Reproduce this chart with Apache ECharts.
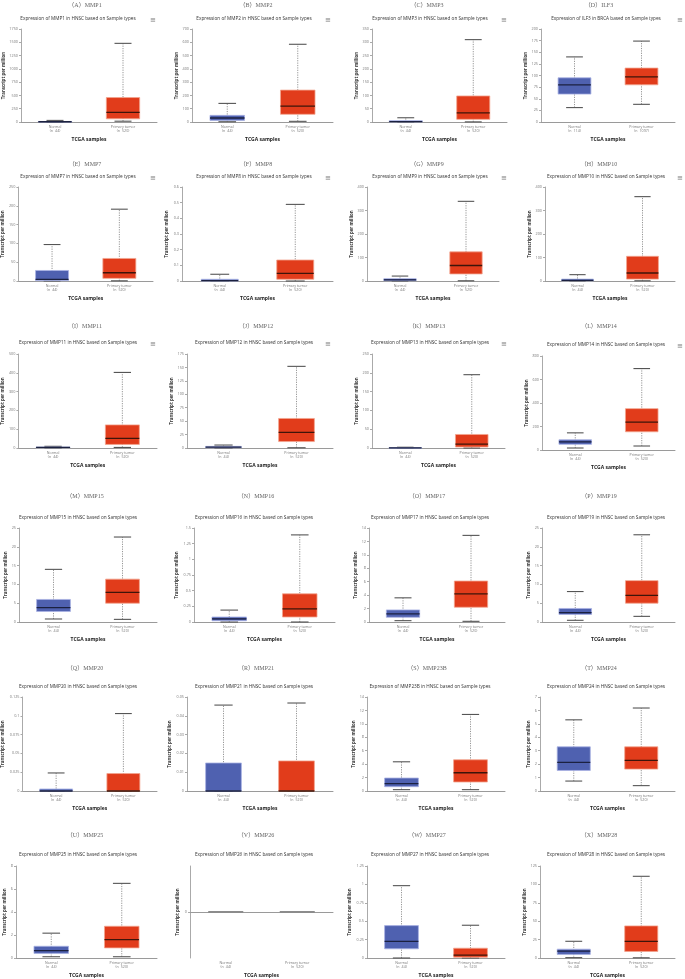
<!DOCTYPE html>
<html><head><meta charset="utf-8">
<script src="https://cdn.jsdelivr.net/npm/echarts@6/dist/echarts.min.js"></script>
<style>html,body{margin:0;padding:0;background:#fff}#c{width:685px;height:979px}</style>
</head><body><div id="c"></div>
<script>
// ---------------- data ----------------
const panelLetters = ['A','B','C','D','E','F','G','H','I','J','K','L','M','N','O','P','Q','R','S','T','U','V','W','X'];
const genes = ['MMP1','MMP2','MMP3','ILF3','MMP7','MMP8','MMP9','MMP10','MMP11','MMP12','MMP13','MMP14','MMP15','MMP16','MMP17','MMP19','MMP20','MMP21','MMP23B','MMP24','MMP25','MMP26','MMP27','MMP28'];
const cancers = ['HNSC','HNSC','HNSC','BRCA','HNSC','HNSC','HNSC','HNSC','HNSC','HNSC','HNSC','HNSC','HNSC','HNSC','HNSC','HNSC','HNSC','HNSC','HNSC','HNSC','HNSC','HNSC','HNSC','HNSC'];
const normalN = ['44','44','44','114','44','44','44','44','44','44','44','44','44','44','44','44','44','44','44','44','44','44','44','44'];
const tumorN  = ['520','520','520','1097','520','520','520','520','520','520','520','520','520','520','520','520','520','520','520','520','520','520','520','520'];
const yMax      = [1750,700,350,200,250,0.6,400,400,500,175,250,800,25,1.5,14,25,0.125,0.05,14,7,8,1,1.25,125];
const yMin      = [0,0,0,0,0,0,0,0,0,0,0,0,0,0,0,0,0,0,0,0,0,-1,0,0];
const yInterval = [250,100,50,25,50,0.1,100,100,100,25,50,200,5,0.25,2,5,0.025,0.01,2,1,2,1,0.25,25];
// [min, Q1, median, Q3, max]
const normalStats = [
 [0, 2, 5, 10, 30],
 [2, 12, 30, 50, 140],
 [0, 0.5, 1.5, 5, 16],
 [31, 60, 80, 95, 140],
 [0, 1, 4.5, 28, 97],
 [0, 0, 0.003, 0.011, 0.043],
 [0, 1.5, 4.5, 10, 21],
 [0, 1, 3, 8, 27],
 [0.5, 1.5, 3, 5, 9],
 [0, 0.5, 1.5, 3, 5.5],
 [0, 0.1, 0.3, 1, 2],
 [17, 48, 70, 87, 146],
 [0.8, 2.8, 3.8, 6.0, 14],
 [0, 0.02, 0.05, 0.08, 0.19],
 [0.2, 0.7, 1.2, 1.8, 3.6],
 [0.45, 2.0, 2.5, 3.6, 8.1],
 [0, 0, 0, 0.0027, 0.024],
 [0, 0, 0, 0.0149, 0.0457],
 [0.2, 0.64, 1.09, 1.93, 4.35],
 [0.74, 1.53, 2.13, 3.29, 5.3],
 [0.11, 0.4, 0.65, 1.02, 2.16],
 [0, 0, 0, 0, 0],
 [0, 0.125, 0.227, 0.44, 0.983],
 [0.5, 4.9, 9.3, 12, 22.7]
];
const tumorStats = [
 [15, 60, 180, 460, 1480],
 [5, 58, 120, 240, 585],
 [0.5, 10, 34, 98, 310],
 [38, 80, 97, 116, 174],
 [0.5, 7, 22, 60, 191],
 [0, 0.011, 0.049, 0.134, 0.489],
 [1, 30, 66, 124, 339],
 [1, 8, 34, 105, 359],
 [3, 19, 51, 123, 402],
 [0.5, 12, 29, 55, 152],
 [0, 2.6, 10.5, 36, 195],
 [34, 155, 237, 352, 693],
 [0.7, 5.0, 7.9, 11.4, 22.6],
 [0, 0.08, 0.21, 0.45, 1.39],
 [0.1, 2.2, 4.2, 6.1, 12.9],
 [1.5, 5.0, 7.1, 11.0, 23.2],
 [0, 0, 0, 0.0232, 0.103],
 [0, 0, 0, 0.016, 0.0468],
 [0.2, 1.34, 2.72, 4.65, 11.4],
 [0.4, 1.63, 2.28, 3.29, 6.18],
 [0.11, 0.88, 1.59, 2.76, 6.49],
 [0, 0, 0, 0, 0],
 [0, 0.01, 0.04, 0.133, 0.445],
 [0.3, 8.9, 22.7, 43.6, 111]
];

// ---------------- layout ----------------
const rowLabelY = [5, 164, 326, 496, 668, 835];
const rowTitleY = [19, 177, 343, 518, 687, 855];
const rowTop    = [29, 187, 354, 528, 697, 866];
const rowZero   = [122, 281, 448, 622, 791, 959];
const colTitleX = [78, 254, 430, 606];
const colLabelX = [85, 256, 427, 599];
const colIconX  = [153, 328, 504, 680];
const axisLeft = [21,192,372,541, 17,182,367,545, 18,187,372,542, 19,194,369,542, 20,187,367,540, 16,190,367,540];
const axisEnd  = [157,333,507,675, 153,333,499,675, 157,333,505,675, 157,335,505,675, 157,333,505,675, 157,333,505,675];

const FONT = '"Open Sans", "Noto Sans", sans-serif';
const fmt = v => String(+(+v).toFixed(6));

const grids = [], xAxes = [], yAxes = [], series = [], graphics = [];

for (let i = 0; i < 24; i++) {
  const r = Math.floor(i / 4), c = i % 4;
  const top = rowTop[r] + (i === 11 ? 2 : 0);
  const zero = rowZero[r] + (i === 11 ? 2 : 0);
  grids.push({left: axisLeft[i], width: axisEnd[i] - axisLeft[i], top: top, height: zero - top, containLabel: false});
  xAxes.push({
    type: 'category', gridIndex: i,
    data: ['Normal\n(n=' + normalN[i] + ')', 'Primary tumor\n(n=' + tumorN[i] + ')'],
    axisLine: {lineStyle: {color: '#9a9a9a', width: 1}},
    axisTick: {alignWithLabel: true, length: 2, lineStyle: {color: '#9a9a9a'}},
    axisLabel: {fontSize: 3.6, color: '#777', lineHeight: 4.2, margin: 3, fontFamily: FONT},
    name: 'TCGA samples', nameLocation: 'middle', nameGap: 15,
    nameTextStyle: {fontSize: 5, fontWeight: 'bold', color: '#222', fontFamily: FONT}
  });
  const maxChars = Math.max(fmt(yMax[i]).length, fmt(yInterval[i] * (Math.round(yMax[i] / yInterval[i]) - 1)).length);
  const yAxis = {
    type: 'value', gridIndex: i, min: yMin[i], max: yMax[i], interval: yInterval[i],
    splitLine: {show: false},
    axisLine: {show: true, lineStyle: {color: '#aaa', width: 1}},
    axisTick: {show: true, length: 2, lineStyle: {color: '#aaa'}},
    axisLabel: {fontSize: 3.8, color: '#777', margin: 3, formatter: fmt, fontFamily: FONT},
    name: 'Transcript per million', nameLocation: 'middle', nameRotate: 90,
    nameGap: 6 + maxChars * 2.3,
    nameTextStyle: {fontSize: 4.4, fontWeight: 'bold', color: '#333', fontFamily: FONT}
  };
  if (yMin[i] < 0) {
    yAxis.axisLabel.customValues = [0];
    yAxis.axisTick.customValues = [0];
    yAxis.nameGap = 10;
  }
  yAxes.push(yAxis);
  series.push({
    type: 'custom', xAxisIndex: i, yAxisIndex: i,
    data: [[0].concat(normalStats[i]), [1].concat(tumorStats[i])],
    renderItem: function (params, api) {
      const cat = api.value(0);
      const v = [1, 2, 3, 4, 5].map(k => api.value(k));
      const x = api.coord([cat, 0])[0];
      const band = api.size([1, 0])[0];
      const bw = band * 0.49, cw = band * 0.25;
      const y = v.map(val => api.coord([cat, val])[1]);
      if (v[0] === v[4]) {
        return {type: 'line', shape: {x1: x - bw / 2, y1: y[2], x2: x + bw / 2, y2: y[2]},
                style: {stroke: '#8c8c8c', lineWidth: 1.8}};
      }
      const blue = cat === 0;
      const fill = blue ? '#4f61b0' : '#e13c1b';
      const edge = blue ? '#aab3e3' : '#f3a58f';
      const med = blue ? '#1b2140' : '#3d140a';
      return {type: 'group', children: [
        {type: 'line', shape: {x1: x, y1: y[0], x2: x, y2: y[4]},
         style: {stroke: '#8a8a8a', lineWidth: 0.9, lineDash: [1.2, 1.2]}},
        {type: 'line', shape: {x1: x - cw / 2, y1: y[0], x2: x + cw / 2, y2: y[0]},
         style: {stroke: '#555', lineWidth: 1.1}},
        {type: 'line', shape: {x1: x - cw / 2, y1: y[4], x2: x + cw / 2, y2: y[4]},
         style: {stroke: '#555', lineWidth: 1.1}},
        {type: 'rect', shape: {x: x - bw / 2, y: y[3], width: bw, height: Math.max(y[1] - y[3], 0.6)},
         style: {fill: fill, stroke: edge, lineWidth: 0.8}},
        {type: 'line', shape: {x1: x - bw / 2, y1: y[2], x2: x + bw / 2, y2: y[2]},
         style: {stroke: med, lineWidth: 1.3}}
      ]};
    }
  });
  // panel label
  graphics.push({type: 'text', x: colLabelX[c], y: rowLabelY[r],
    style: {text: '（' + panelLetters[i] + '）' + genes[i], fontSize: 6, fill: '#666',
            fontFamily: '"Liberation Serif", "DejaVu Serif", "Noto Sans CJK SC", serif',
            align: 'center', verticalAlign: 'middle'}});
  // chart title
  graphics.push({type: 'text', x: colTitleX[c], y: rowTitleY[r] + (i === 11 ? 2 : 0),
    style: {text: 'Expression of ' + genes[i] + ' in ' + cancers[i] + ' based on Sample types',
            fontSize: 4.7, fill: '#333', fontFamily: FONT, align: 'center', verticalAlign: 'middle'}});
  if (r < 3) {
    graphics.push({type: 'text', x: colIconX[c], y: rowTitleY[r] + 1 + (i === 11 ? 2 : 0),
      style: {text: '≡', fontSize: 7, fill: '#777', fontFamily: '"DejaVu Sans", sans-serif',
              align: 'center', verticalAlign: 'middle'}});
  }
}

const chart = echarts.init(document.getElementById('c'), null, {renderer: 'canvas'});
chart.setOption({
  backgroundColor: '#fff',
  animation: false,
  grid: grids, xAxis: xAxes, yAxis: yAxes, series: series, graphic: graphics
});
</script></body></html>
